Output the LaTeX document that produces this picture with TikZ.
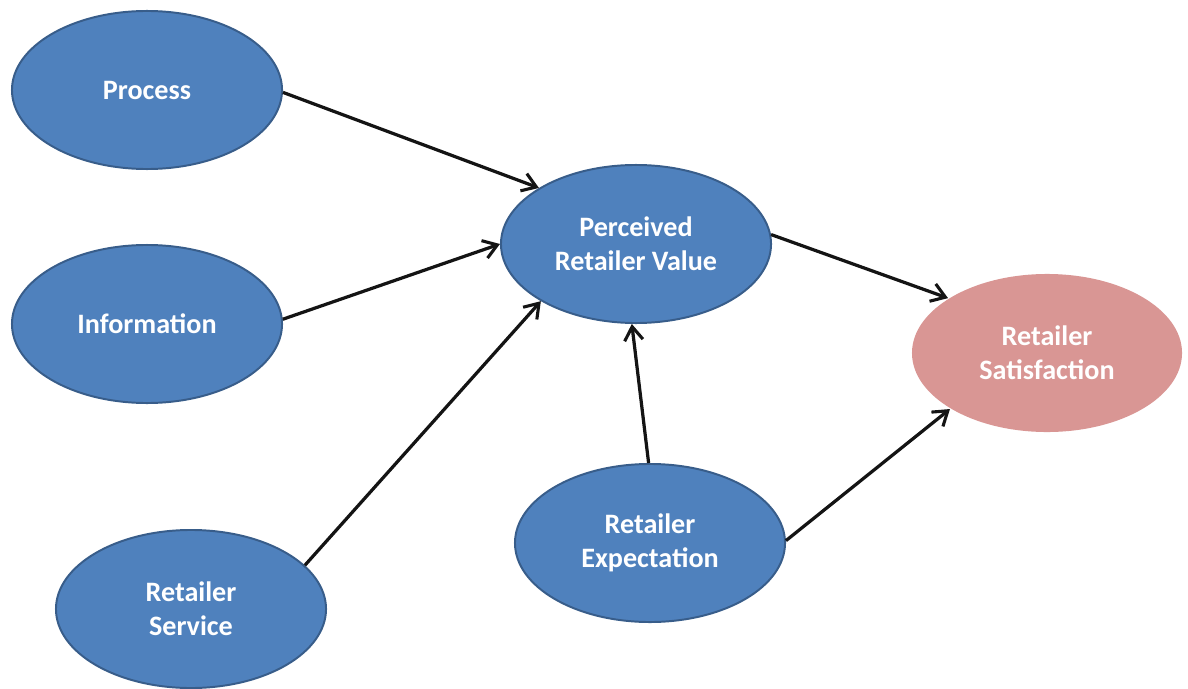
\documentclass[tikz,border=0pt]{standalone}
\usepackage{fontspec}
\setmainfont{Carlito}
\usepackage{tikz}
\usetikzlibrary{shapes.geometric, arrows.meta}
\definecolor{nodeFill}{RGB}{79, 129, 189}
\definecolor{nodeLine}{RGB}{56, 93, 138}
\definecolor{satFill}{RGB}{217, 150, 148}
\definecolor{edgeColor}{RGB}{20, 20, 20}
\tikzset{
    blue_node/.style={
        ellipse,
        draw=nodeLine,
        line width=1.4pt,
        fill=nodeFill,
        text=white,
        align=center,
        font=\fontsize{20}{24.5}\selectfont\bfseries,
        inner sep=0pt,
        minimum width=6.75cm,
        minimum height=3.95cm
    },
    sat_node/.style={
        blue_node,
        draw=none,
        fill=satFill
    },
    path_edge/.style={
        -{Straight Barb[length=3.4mm,width=4.6mm,line width=2.2pt]},
        line width=2.3pt,
        draw=edgeColor
    }
}
\begin{document}
\begin{tikzpicture}[x=0.025cm, y=-0.025cm]
        \useasboundingbox (0,0) rectangle (1188,689);

        \node[blue_node] (process) at (147,90) {Process};
        \node[blue_node] (info) at (147,324) {Information};
        \node[blue_node] (service) at (191,609) {Retailer\\Service};
        \node[blue_node] (value) at (636,244) {Perceived\\Retailer Value};
        \node[blue_node] (expect) at (650,543) {Retailer\\Expectation};
        \node[sat_node] (satisf) at (1047,353) {Retailer\\Satisfaction};

        \draw[path_edge] (process.-1) -- (value.150);
        \draw[path_edge] (info.2) -- (value.180);
        \draw[path_edge] (service.21) -- (value.211);
        \draw[path_edge] (expect.91) -- (value.267);
        \draw[path_edge] (value.4) -- (satisf.151);
        \draw[path_edge] (expect.1) -- (satisf.210);
    \end{tikzpicture}
\end{document}
